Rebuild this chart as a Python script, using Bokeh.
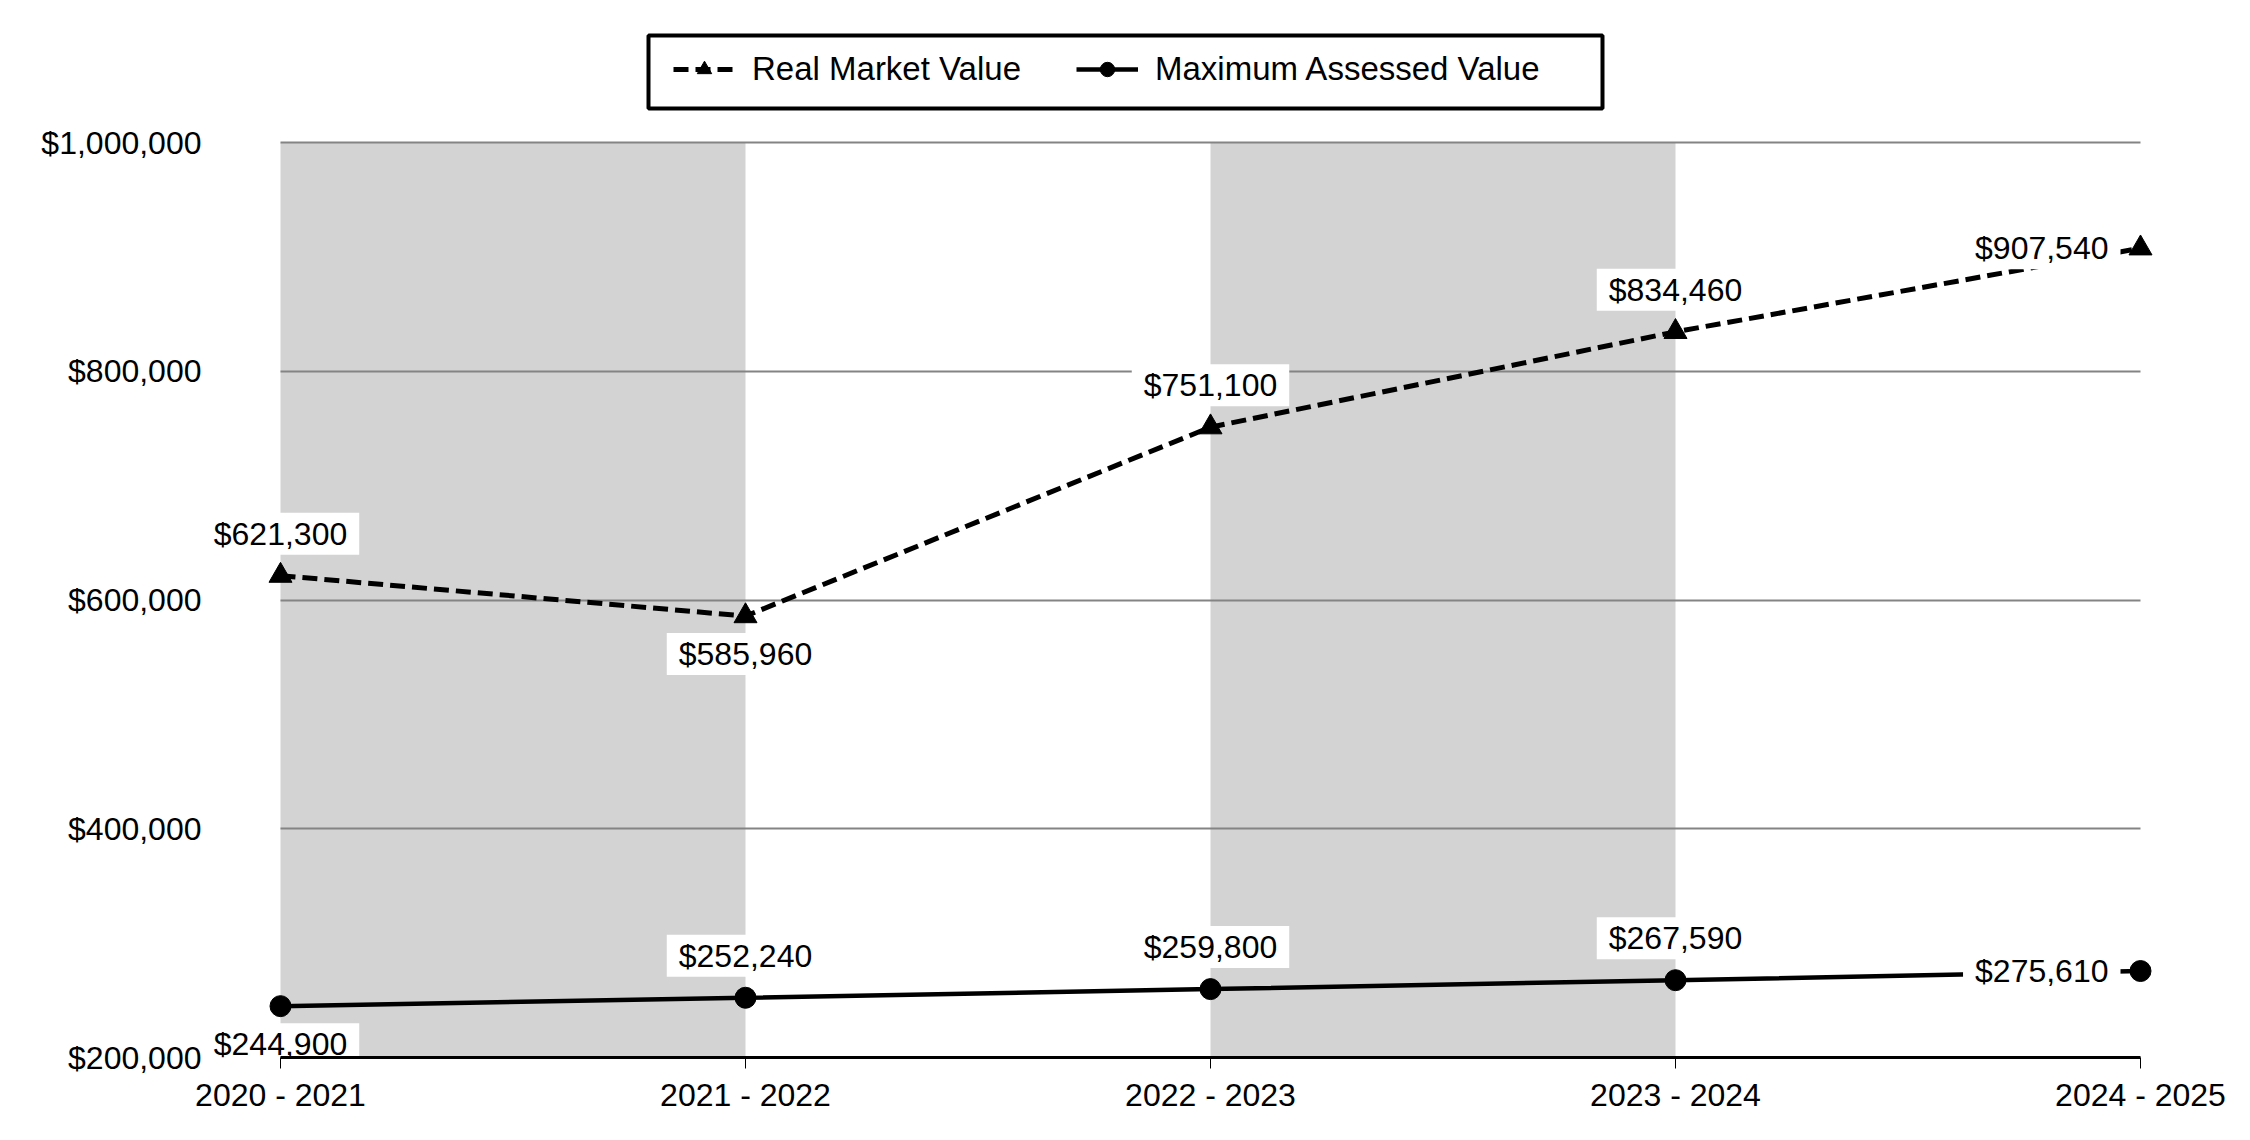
from bokeh.plotting import figure
from bokeh.models import (ColumnDataSource, FixedTicker, NumeralTickFormatter, BoxAnnotation,
                          Legend, LegendItem, Label, Range1d, Grid)
from bokeh.embed import file_html
from bokeh.resources import INLINE

# ---- data ----
years = ["2020 - 2021", "2021 - 2022", "2022 - 2023", "2023 - 2024", "2024 - 2025"]
real_market_value = [621300, 585960, 751100, 834460, 907540]
max_assessed_value = [244900, 252240, 259800, 267590, 275610]
y_ticks = [200000, 400000, 600000, 800000, 1000000]

# ---- label placement (style) ----
rmv_label_side = ["above", "below", "above", "above", "left"]
mav_label_side = ["below", "above", "above", "above", "left"]

FONT = "Liberation Sans"
FS = "32px"
x = list(range(len(years)))

# ---- layout (pixels) ----
W, H = 2250, 1140
FRAME_L, FRAME_R, FRAME_T, FRAME_B = 201, 2171, 20, 1057
X0_PX, X1_PX = 280, 2140          # where first / last category sit
YTOP_PX = 142                       # where the top tick sits
px_per_x = (X1_PX - X0_PX) / (x[-1] - x[0])
px_per_y = (FRAME_B - YTOP_PX) / (y_ticks[-1] - y_ticks[0])
x_start = x[0] - (X0_PX - FRAME_L) / px_per_x
x_end = x[-1] + (FRAME_R - X1_PX) / px_per_x
y_end = y_ticks[-1] + (YTOP_PX - FRAME_T) / px_per_y

p = figure(width=W, height=H, output_backend="svg", toolbar_location=None,
           x_range=Range1d(x_start, x_end),
           y_range=Range1d(y_ticks[0], y_end),
           min_border_left=FRAME_L, min_border_right=W - FRAME_R,
           min_border_top=FRAME_T, min_border_bottom=H - FRAME_B)
p.outline_line_color = None
p.background_fill_color = "white"
p.border_fill_color = "white"

# alternating shaded bands
for i in range(0, len(x) - 1, 2):
    p.add_layout(BoxAnnotation(left=x[i], right=x[i + 1], top=y_ticks[-1],
                               fill_color="#d3d3d3", fill_alpha=1.0,
                               line_color=None, level="image"))

# axes
p.yaxis.ticker = FixedTicker(ticks=y_ticks)
p.yaxis.formatter = NumeralTickFormatter(format="$0,0")
p.yaxis.axis_line_color = None
p.yaxis.major_tick_line_color = None
p.yaxis.major_tick_out = 0
p.yaxis.major_tick_in = 0
p.yaxis.minor_tick_line_color = None
p.yaxis.major_label_standoff = 0
p.yaxis.major_label_text_font = FONT
p.yaxis.major_label_text_font_size = FS
p.yaxis.major_label_text_color = "black"

p.xaxis.ticker = FixedTicker(ticks=x)
p.xaxis.major_label_overrides = {i: years[i] for i in x}
p.xaxis.bounds = (x[0], x[-1])
p.xaxis.axis_line_width = 3
p.xaxis.axis_line_color = "black"
p.xaxis.major_tick_out = 11
p.xaxis.major_tick_in = 0
p.xaxis.major_tick_line_width = 1
p.xaxis.major_tick_line_color = "black"
p.xaxis.minor_tick_line_color = None
p.xaxis.major_label_standoff = 8
p.xaxis.major_label_text_font = FONT
p.xaxis.major_label_text_font_size = FS
p.xaxis.major_label_text_color = "black"
p.xaxis.level = "overlay"

# grid
p.xgrid.visible = False
GRID_COLOR = "#848484"
if "cross_bounds" in Grid.properties():
    p.ygrid.ticker = FixedTicker(ticks=y_ticks)
    p.ygrid.grid_line_color = GRID_COLOR
    p.ygrid.grid_line_width = 2
    p.ygrid.cross_bounds = (x[0], x[-1])
else:
    p.ygrid.visible = False
    p.segment(x0=[x[0]] * len(y_ticks), x1=[x[-1]] * len(y_ticks), y0=y_ticks, y1=y_ticks,
              line_color=GRID_COLOR, line_width=2, level="underlay")

# series
src = ColumnDataSource(dict(x=x, rmv=real_market_value, mav=max_assessed_value))
r1 = p.line("x", "rmv", source=src, line_color="black", line_width=5, line_dash="15 7")
s1 = p.scatter("x", "rmv", source=src, marker="triangle", size=23, color="black")
r2 = p.line("x", "mav", source=src, line_color="black", line_width=4.5)
s2 = p.scatter("x", "mav", source=src, marker="circle", size=21, color="black")

# legend (inside the frame, above the top gridline)
LEG_X, LEG_Y = 673, 88            # empirically placed so items sit inside the frame box
BOX_L, BOX_R, BOX_T, BOX_B = 648, 1602, 35, 108
legend = Legend(items=[LegendItem(label="Real Market Value", renderers=[r1, s1]),
                       LegendItem(label="Maximum Assessed Value", renderers=[r2, s2])],
                orientation="horizontal",
                location=(LEG_X - FRAME_L, FRAME_B - LEG_Y),
                padding=13, spacing=55,
                glyph_width=62, glyph_height=36, label_standoff=17, label_height=34,
                label_text_font=FONT, label_text_font_size="33px", label_text_color="black",
                border_line_color=None,
                background_fill_color=None, background_fill_alpha=0.0, margin=0)
p.add_layout(legend)
# legend frame
p.add_layout(BoxAnnotation(left=BOX_L - FRAME_L, right=BOX_R - FRAME_L,
                           bottom=FRAME_B - BOX_B, top=FRAME_B - BOX_T,
                           left_units="screen", right_units="screen",
                           top_units="screen", bottom_units="screen",
                           fill_color=None, fill_alpha=0, line_color="black",
                           line_width=4, line_alpha=1.0))

has_pad = "padding" in Label.properties()


def add_labels(vals, sides):
    for xi, v, side in zip(x, vals, sides):
        if side == "above":
            xo, yo, align = 0, 42, "center"
        elif side == "below":
            xo, yo, align = 0, -38, "center"
        else:
            xo, yo, align = -20, 0, "right"
        kw = dict(x=xi, y=v, text=f"${v:,}", x_offset=xo, y_offset=yo, text_align=align,
                  text_baseline="middle", text_font=FONT, text_font_size=FS, text_color="black",
                  background_fill_color="white", background_fill_alpha=1.0)
        if has_pad:
            kw["padding"] = (12, 12, 3, 3)
        p.add_layout(Label(**kw))


add_labels(real_market_value, rmv_label_side)
add_labels(max_assessed_value, mav_label_side)

open("out.html", "w").write(file_html(p, INLINE))
